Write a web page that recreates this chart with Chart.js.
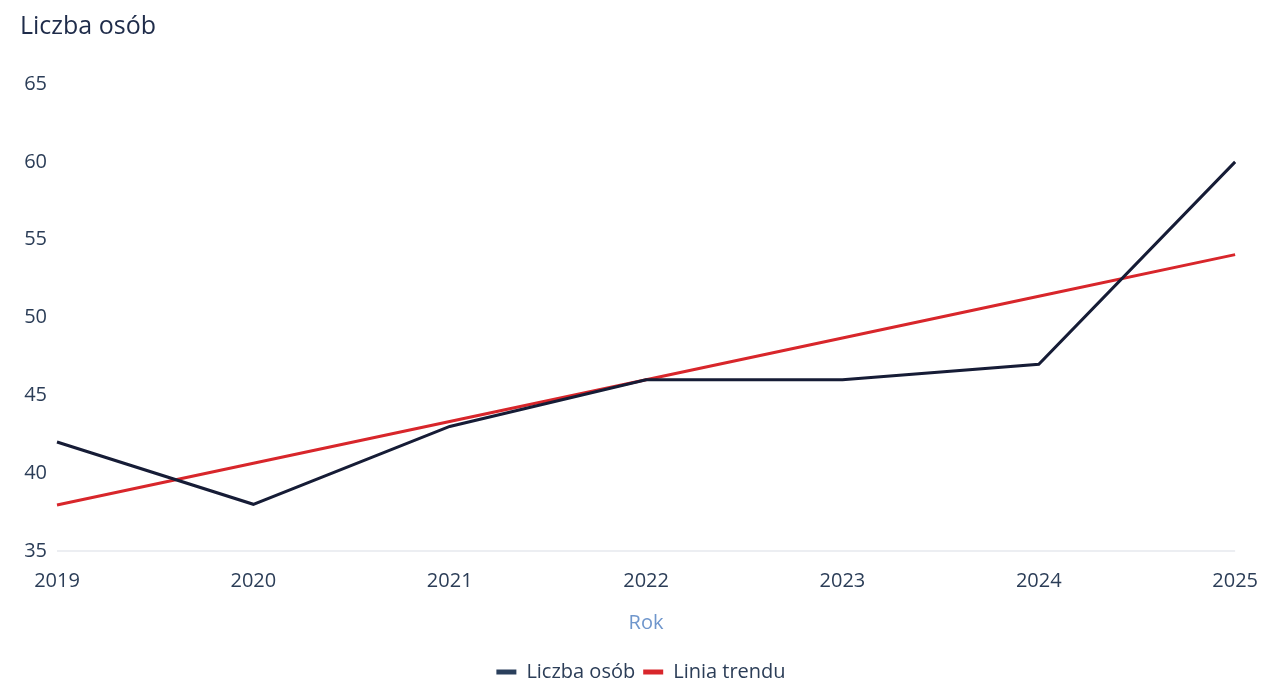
<!DOCTYPE html>
<html><head><meta charset="utf-8">
<script src="https://cdn.jsdelivr.net/npm/chart.js@4/dist/chart.umd.min.js"></script>
<style>html,body{margin:0;padding:0;background:#fff;}#c{display:block;}</style>
</head><body>
<canvas id="c" width="1268" height="687"></canvas>
<script>
const years = ['2019','2020','2021','2022','2023','2024','2025'];
const liczbaOsob = [42, 38, 43, 46, 46, 47, 60];
const liniaTrendu = [37.96, 40.64, 43.32, 46.0, 48.68, 51.36, 54.04];
const yTicks = [35, 40, 45, 50, 55, 60, 65];

const FONT = "'Open Sans', 'Noto Sans', sans-serif";
const TXT = '#2b3d57';

const legendShift = {
  id: 'legendShift',
  afterLayout(chart) {
    const lg = chart.legend;
    if (lg) { lg.top += 5; lg.bottom += 5; }
  }
};

new Chart(document.getElementById('c'), {
  type: 'line',
  data: {
    labels: years,
    datasets: [
      { label: 'Liczba osób', data: liczbaOsob, borderColor: '#161c36', backgroundColor: '#2a3f5c', borderWidth: 3, pointRadius: 0, tension: 0 },
      { label: 'Linia trendu', data: liniaTrendu, borderColor: '#d8262b', backgroundColor: '#d8262b', borderWidth: 3, pointRadius: 0, tension: 0 }
    ]
  },
  plugins: [legendShift],
  options: {
    responsive: false,
    animation: false,
    layout: { padding: { left: 20, right: 6, top: 12, bottom: 0 } },
    plugins: {
      tooltip: { enabled: false },
      title: {
        display: true, text: 'Liczba osób', align: 'start', color: '#1f2c4a',
        font: { family: FONT, size: 25, weight: 'normal' }, padding: { top: 0, bottom: 42 }
      },
      legend: {
        position: 'bottom',
        labels: {
          color: TXT, font: { family: FONT, size: 20 }, boxWidth: 20, boxHeight: 5, padding: 8,
          generateLabels(chart) {
            const items = Chart.defaults.plugins.legend.labels.generateLabels(chart);
            items.forEach(it => { it.lineWidth = 0; it.fillStyle = chart.data.datasets[it.datasetIndex].backgroundColor; });
            return items;
          }
        }
      }
    },
    scales: {
      x: {
        grid: { display: false },
        border: { display: false },
        ticks: { color: TXT, font: { family: FONT, size: 20 }, maxRotation: 0, padding: 10 },
        title: { display: true, text: 'Rok', color: '#6f96cc', font: { family: FONT, size: 20 }, padding: { top: 8, bottom: 14 } }
      },
      y: {
        min: 35, max: 65,
        afterBuildTicks(scale) { scale.ticks = yTicks.map(v => ({ value: v })); },
        afterFit(scale) { scale.width = 37; },
        grid: { display: true, drawTicks: false, color: ctx => ctx.tick && ctx.tick.value === 35 ? '#eceef2' : 'rgba(0,0,0,0)', lineWidth: 2 },
        border: { display: false },
        ticks: { color: TXT, font: { family: FONT, size: 20 }, padding: 10 }
      }
    }
  }
});
</script>
</body></html>
